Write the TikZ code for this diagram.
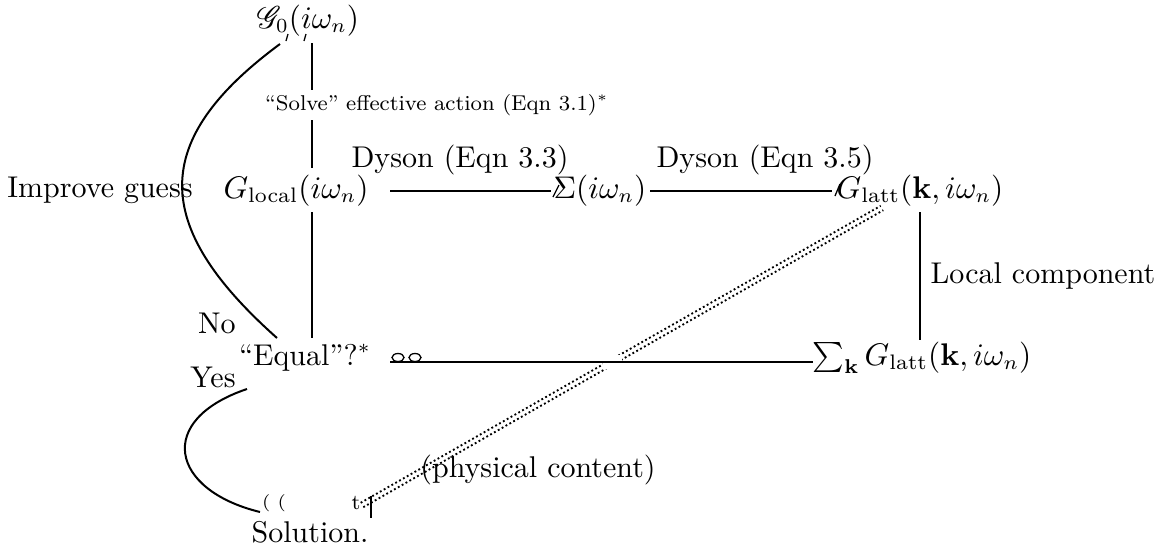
\documentclass[tikz,border=0pt]{standalone}
\usepackage{amsmath,amssymb,mathrsfs}
\usetikzlibrary{calc}
\begin{document}
\begin{tikzpicture}[x=0.35pt,y=-0.35pt,
  every node/.style={font=\fontsize{10.5}{12.6}\selectfont, inner sep=0pt},
  txt/.style={anchor=base},
  ln/.style={line width=0.7pt},
  thin glyph/.style={line width=0.45pt},
  dotline/.style={line width=0.65pt, dash pattern=on 0.65pt off 0.9pt},
  small glyph/.style={font=\fontsize{6}{7}\selectfont}]
\useasboundingbox (0,0) rectangle (1163,554);

% main nodes
\node[txt] (g0)    at (308,28)  {$\mathscr{G}_0(i\omega_n)$};
\node[txt] (gloc)  at (296,198) {$G_{\text{local}}(i\omega_n)$};
\node[txt] (sig)   at (600,198) {$\Sigma(i\omega_n)$};
\node[txt] (glatt) at (920,198) {$G_{\text{latt}}(\mathbf{k},i\omega_n)$};
\node[txt] (equal) at (305,365) {``Equal''?$^*$};
\node[txt] (sumk)  at (922,365) {$\sum_{\mathbf{k}} G_{\text{latt}}(\mathbf{k},i\omega_n)$};
\node[txt] (sol)   at (310,542) {Solution.};

% labels
\node[txt] (ldys1)  at (460,167) {Dyson (Eqn 3.3)};
\node[txt] (ldys2)  at (765,167) {Dyson (Eqn 3.5)};
\node[txt] (limp)   at (100,197) {Improve guess};
\node[txt] (lloc)   at (1043,283) {Local component};
\node[txt] (lno)    at (217,333) {No};
\node[txt] (lyes)   at (213,387) {Yes};

% connector end points
\coordinate (g0s)    at (312,43);
\coordinate (gloctop) at (312,168);
\coordinate (glocbot) at (312,212);
\coordinate (eqtop)  at (312,338);
\coordinate (glocE)  at (390,191);
\coordinate (sigW)   at (551,191);
\coordinate (sigE)   at (650,191);
\coordinate (glattW) at (832,191);
\coordinate (glattS) at (920,212);
\coordinate (sumkN)  at (920,340);
\coordinate (eqE)    at (390,362);
\coordinate (sumkW)  at (813,362);
\coordinate (noA)    at (277,338);
\coordinate (g0sw)   at (280,44);
\coordinate (yesA)   at (247,389);
\coordinate (solW)   at (260,512);
\coordinate (solNE)  at (362,505);
\coordinate (glattSW) at (882,208);

% double dotted connector (physical content)
\draw[dotline] ($(solNE)+(1.3,2.2)$) -- ($(glattSW)+(1.3,2.2)$);
\draw[dotline] ($(solNE)+(-1.3,-2.2)$) -- ($(glattSW)+(-1.3,-2.2)$);
\fill[white] (603,355) rectangle (622,369);
\node[txt] (lphys) at (538,477) {(physical content)};

% straight connectors
\draw[ln] (g0s) -- (gloctop);
\node[txt, fill=white, inner ysep=1.5pt, font=\fontsize{7.5}{9}\selectfont] (lsolve) at (437,110) {``Solve'' effective action (Eqn 3.1)$^*$};
\draw[ln] (glocbot) -- (eqtop);
\draw[ln] (glocE) -- (sigW);
\draw[ln] (sigE) -- (glattW);
\draw[ln] (glattS) -- (sumkN);
\draw[ln] (eqE) -- (sumkW);

% curved connectors
\draw[ln] (noA) .. controls (150,225) and (150,140) .. (g0sw);
\draw[ln] (yesA) .. controls (155,420) and (170,490) .. (solW);

% broken tip glyphs
\draw[thin glyph] (288,34) -- (286,41);
\draw[thin glyph] (306,34) -- (304,41);
\draw[thin glyph] (559,185) -- (553,197);
\draw[thin glyph] (840,184) -- (835,196);
\draw[thin glyph] (398,357.5) ellipse (6 and 4);
\draw[thin glyph] (415,357.5) ellipse (6 and 4);
\node[small glyph] (par) at (274,503) {( (};
\node[font=\fontsize{7.5}{8}\selectfont] (tg) at (356,503) {t};
\draw[thin glyph] (371,496) -- (371,518);
\end{tikzpicture}
\end{document}
